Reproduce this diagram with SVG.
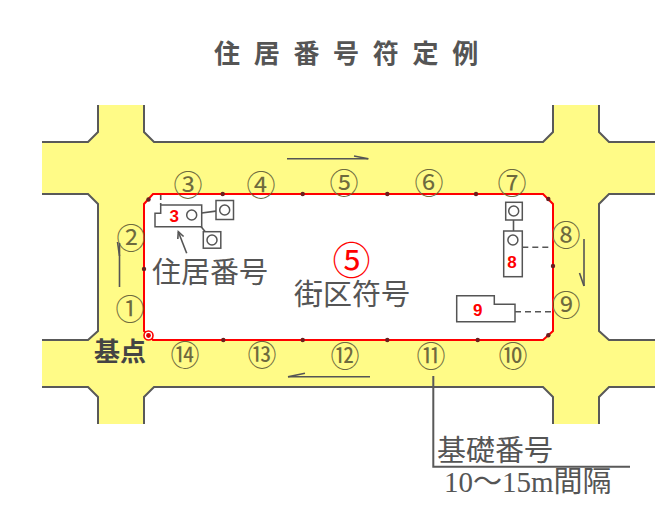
<svg xmlns="http://www.w3.org/2000/svg" width="665" height="523" viewBox="0 0 665 523">
<style>
.edge{fill:none;stroke:#595959;stroke-width:2}
.ln{fill:none;stroke:#555;stroke-width:1.6}
.bld{fill:#fff;stroke:#555;stroke-width:1.5}
.dash{fill:none;stroke:#555;stroke-width:1.6;stroke-dasharray:6 4}
.dot{fill:#6b1f1f}
.cn{font-family:"Noto Sans CJK JP",sans-serif;font-size:29px;fill:#6e6a3e;text-anchor:middle;dominant-baseline:central}
.lab{font-family:"Noto Sans CJK JP",sans-serif;font-size:29px;fill:#555}
.ser{font-family:"Liberation Serif","Noto Sans CJK JP",serif;font-size:29px;fill:#555}
.bn{font-family:"Liberation Sans",Arial,sans-serif;font-size:17px;font-weight:bold;fill:#f00;text-anchor:middle;dominant-baseline:central}
</style>
<rect width="665" height="523" fill="#fff"/>
<g id="title">
<text x="214" y="63" font-family="'Noto Sans CJK JP',sans-serif" font-size="26" font-weight="bold" fill="#555" letter-spacing="13.7">住居番号符定例</text>
</g>
<g id="roads">
<path fill="#fffb87" fill-rule="evenodd" d="M98,105 L144,105 L144,132 L154,142 L543,142 L553,132 L553,105 L599,105 L599,132 L609,142 L655,142 L655,194 L609,194 L599,204 L599,331 L609,340 L655,340 L655,387 L609,387 L599,397 L599,424 L553,424 L553,397 L543,387 L154,387 L144,397 L144,424 L98,424 L98,397 L88,387 L42,387 L42,340 L88,340 L98,331 L98,204 L88,194 L42,194 L42,142 L88,142 L98,132 Z M153,194 L543,194 L553,204 L553,331 L543,340 L153,340 L144,331 L144,204 Z"/>
<polyline class="edge" points="42,142 88,142 98,132 98,105"/>
<polyline class="edge" points="144,105 144,132 154,142 543,142 553,132 553,105"/>
<polyline class="edge" points="599,105 599,132 609,142 655,142"/>
<polyline class="edge" points="42,194 88,194 98,204 98,331 88,340 42,340"/>
<polyline class="edge" points="42,387 88,387 98,397 98,424"/>
<polyline class="edge" points="144,424 144,397 154,387 543,387 553,397 553,424"/>
<polyline class="edge" points="599,424 599,397 609,387 655,387"/>
<polyline class="edge" points="655,194 609,194 599,204 599,331 609,340 655,340"/>
</g>
<g id="block">
<polygon points="153,194 543,194 553,204 553,331 543,340 153,340 144,331 144,204" fill="none" stroke="#f00" stroke-width="2"/>
<circle class="dot" cx="148.5" cy="199.5" r="2.2"/>
<circle class="dot" cx="222.7" cy="194" r="2.2"/>
<circle class="dot" cx="302.7" cy="194" r="2.2"/>
<circle class="dot" cx="387.3" cy="194" r="2.2"/>
<circle class="dot" cx="476" cy="194" r="2.2"/>
<circle class="dot" cx="548.3" cy="199" r="2.2"/>
<circle class="dot" cx="553" cy="266" r="2.2"/>
<circle class="dot" cx="548.3" cy="335.3" r="2.2"/>
<circle class="dot" cx="477.7" cy="340" r="2.2"/>
<circle class="dot" cx="387.3" cy="340" r="2.2"/>
<circle class="dot" cx="302.7" cy="340" r="2.2"/>
<circle class="dot" cx="223.3" cy="340" r="2.2"/>
<circle class="dot" cx="144" cy="269" r="2.2"/>
<circle cx="148.5" cy="335.5" r="4.5" fill="#fff" stroke="#f00" stroke-width="1.6"/>
<circle cx="148.5" cy="335.5" r="2.4" fill="#d00"/>
</g>
<g id="numbers">
<text class="cn" x="130" y="307">①</text>
<text class="cn" x="131" y="236">②</text>
<text class="cn" x="188" y="183">③</text>
<text class="cn" x="261" y="183">④</text>
<text class="cn" x="344" y="181">⑤</text>
<text class="cn" x="429" y="181">⑥</text>
<text class="cn" x="512" y="181">⑦</text>
<text class="cn" x="566" y="233">⑧</text>
<text class="cn" x="566" y="303">⑨</text>
<text class="cn" x="513" y="354">⑩</text>
<text class="cn" x="431" y="354">⑪</text>
<text class="cn" x="345" y="354">⑫</text>
<text class="cn" x="262" y="353">⑬</text>
<text class="cn" x="185" y="353">⑭</text>
</g>
<g id="connectors">
<line class="ln" x1="287" y1="158.7" x2="368.3" y2="158.7"/>
<line class="ln" x1="354" y1="156" x2="368.3" y2="158.7"/>
<line class="ln" x1="119.5" y1="243" x2="119.5" y2="287"/>
<line class="ln" x1="117.5" y1="242" x2="119.5" y2="256"/>
<line class="ln" x1="584" y1="239" x2="584" y2="286"/>
<line class="ln" x1="579.5" y1="273" x2="584" y2="286"/>
<line class="ln" x1="288" y1="376.7" x2="370" y2="376.7"/>
<line class="ln" x1="288" y1="376.7" x2="305" y2="373.3"/>
<polyline class="ln" points="186.7,253.3 178.3,231.7"/>
<polyline class="ln" points="177.8,239 178.3,231.7 183.6,236.5"/>
<polyline class="edge" points="433.3,376 433.3,466.7 630,466.7"/>
<line class="dash" x1="160.7" y1="195" x2="160.7" y2="205" style="stroke-dasharray:5 3"/>
<line class="dash" x1="522.3" y1="247.3" x2="552" y2="247.3"/>
<line class="dash" x1="515" y1="311.7" x2="552" y2="311.7"/>
<line class="ln" x1="196" y1="213.8" x2="219.5" y2="210.6"/>
<line class="ln" x1="195" y1="219" x2="208.6" y2="236"/>
<line class="ln" x1="513.5" y1="216" x2="513.5" y2="235"/>
</g>
<g id="house3">
<polygon class="bld" points="155,213.3 160.7,213.3 160.7,205 201.7,205 201.7,226.7 155,226.7"/>
<text class="bn" x="174.3" y="216.5">3</text>
<circle class="bld" cx="191.7" cy="215" r="5"/>
<rect class="bld" x="216" y="200.5" width="17.5" height="19"/>
<circle class="bld" cx="224.7" cy="210" r="5"/>
<rect class="bld" x="203.3" y="231.7" width="17.5" height="16.5"/>
<circle class="bld" cx="212" cy="240" r="5"/>
</g>
<g id="house8">
<rect class="bld" x="505.7" y="202.3" width="16.6" height="17.7"/>
<circle class="bld" cx="513.7" cy="211" r="5"/>
<rect class="bld" x="503.7" y="231" width="18.6" height="45.7"/>
<circle class="bld" cx="512.9" cy="240" r="5"/>
<text class="bn" x="512" y="262">8</text>
</g>
<g id="house9">
<polygon class="bld" points="456.7,295.7 494.3,295.7 494.3,304.3 515,304.3 515,321.7 456.7,321.7"/>
<text class="bn" x="477.7" y="310">9</text>
</g>
<g id="labels">
<text class="lab" x="152" y="283">住居番号</text>
<text class="lab" x="294" y="305">街区符号</text>
<text class="lab" x="437" y="461">基礎番号</text>
<text class="ser" x="444" y="492">10～15m間隔</text>
<text x="351.5" y="257" font-family="'Noto Sans CJK JP',sans-serif" font-size="38" fill="#f00" text-anchor="middle" dominant-baseline="central">⑤</text>
<text x="94" y="361" font-family="'Noto Sans CJK JP',sans-serif" font-size="26" font-weight="bold" fill="#444">基点</text>
</g>
</svg>
